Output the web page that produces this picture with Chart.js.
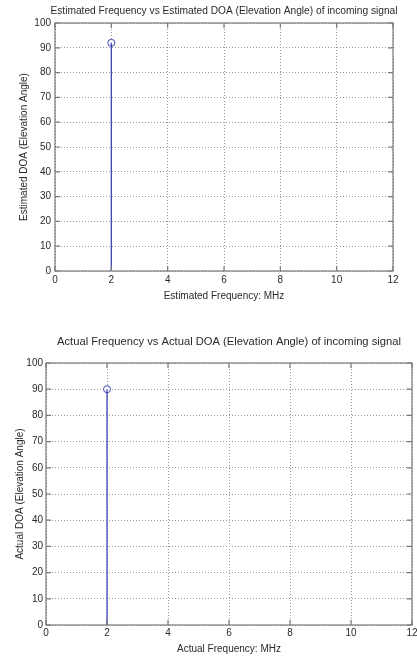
<!DOCTYPE html>
<html>
<head>
<meta charset="utf-8">
<script src="https://cdn.jsdelivr.net/npm/chart.js@4.4.1/dist/chart.umd.min.js"></script>
<style>
  html, body { margin: 0; padding: 0; background: #fff; }
  #wrap { position: relative; width: 417px; height: 656px; overflow: hidden; }
  .box { position: absolute; left: 0; width: 417px; }
</style>
</head>
<body>
<div id="wrap">
  <div class="box" style="top:0;height:305px"><canvas id="estChart"></canvas></div>
  <div class="box" style="top:328px;height:328px"><canvas id="actChart"></canvas></div>
</div>
<script>
// 推定値 / 実測値
const estFreq = [2];
const estDoa = [92];
const actFreq = [2];
const actDoa = [90];

const xMin = 0, xMax = 12, xStep = 2;
const yMin = 0, yMax = 100, yStep = 10;

const stemColor = "#3c46b8";
const axisColor = "#7a7a7a";
const textColor = "#2a2a2a";
const fontFamily = "Liberation Sans, Arial";

// 枠線と内向きの目盛り、タイトル (MATLAB風)
const boxPlugin = {
  id: "matlabBox",
  afterDraw(chart, args, opts) {
    const { ctx, chartArea: a, scales } = chart;
    ctx.save();
    ctx.strokeStyle = axisColor;
    ctx.lineWidth = 1.2;
    ctx.strokeRect(a.left, a.top, a.right - a.left, a.bottom - a.top);
    ctx.beginPath();
    scales.x.ticks.forEach(t => {
      const px = scales.x.getPixelForValue(t.value);
      ctx.moveTo(px, a.bottom); ctx.lineTo(px, a.bottom - 5);
      ctx.moveTo(px, a.top); ctx.lineTo(px, a.top + 5);
    });
    scales.y.ticks.forEach(t => {
      const py = scales.y.getPixelForValue(t.value);
      ctx.moveTo(a.left, py); ctx.lineTo(a.left + 5, py);
      ctx.moveTo(a.right, py); ctx.lineTo(a.right - 5, py);
    });
    ctx.stroke();
    // タイトルはプロット領域の中央に
    ctx.fillStyle = textColor;
    ctx.font = opts.size + "px " + fontFamily;
    ctx.textAlign = "center";
    ctx.textBaseline = "middle";
    ctx.fillText(opts.text, (a.left + a.right) / 2, opts.y);
    ctx.restore();
  }
};

function makeStemChart(id, freq, doa, cfg) {
  const stems = freq.map((f, i) => ({
    type: "scatter",
    data: [{ x: f, y: 0 }, { x: f, y: doa[i] }],
    showLine: true,
    borderColor: stemColor,
    borderWidth: 1.3,
    pointRadius: 0
  }));
  const marks = {
    type: "scatter",
    data: freq.map((f, i) => ({ x: f, y: doa[i] })),
    pointStyle: "circle",
    pointRadius: 3.5,
    borderColor: stemColor,
    borderWidth: 1,
    backgroundColor: "#ffffff"
  };

  return new Chart(document.getElementById(id), {
    type: "scatter",
    data: { datasets: [...stems, marks] },
    options: {
      responsive: true,
      maintainAspectRatio: false,
      animation: false,
      layout: { padding: { left: 0, right: cfg.padRight, top: cfg.padTop, bottom: cfg.padBottom } },
      plugins: {
        legend: { display: false },
        tooltip: { enabled: false },
        title: { display: false },
        matlabBox: { text: cfg.title, y: cfg.titleY, size: cfg.titleSize }
      },
      scales: {
        x: {
          type: "linear",
          min: xMin, max: xMax,
          afterFit: s => { s.paddingRight = 0; s.paddingLeft = 0; },
          ticks: { stepSize: xStep, color: textColor, padding: cfg.xTickPad,
                   font: { family: fontFamily, size: 10 } },
          grid: { color: "#9a9a9a", drawTicks: false },
          border: { display: false, dash: [1, 2] },
          title: { display: true, text: cfg.xLabel, color: textColor,
                   padding: { top: cfg.xTitleTop, bottom: 0 },
                   font: { family: fontFamily, size: 10 } }
        },
        y: {
          min: yMin, max: yMax,
          afterFit: s => { s.width = cfg.yWidth; },
          ticks: { stepSize: yStep, color: textColor, padding: cfg.yTickPad,
                   font: { family: fontFamily, size: 10 } },
          grid: { color: "#9a9a9a", drawTicks: false },
          border: { display: false, dash: [1, 2] },
          title: { display: true, text: cfg.yLabel, color: textColor,
                   padding: { top: cfg.yTitlePad, bottom: 0 },
                   font: { family: fontFamily, size: 10 } }
        }
      }
    },
    plugins: [boxPlugin]
  });
}

makeStemChart("estChart", estFreq, estDoa, {
  title: "Estimated Frequency vs Estimated DOA (Elevation Angle) of incoming signal",
  xLabel: "Estimated Frequency: MHz",
  yLabel: "Estimated DOA (Elevation Angle)",
  padRight: 24, padBottom: 3, padTop: 23, titleY: 11, titleSize: 10.2,
  xTickPad: 3, xTitleTop: 1,
  yWidth: 55, yTickPad: 4, yTitlePad: 18
});

makeStemChart("actChart", actFreq, actDoa, {
  title: "Actual Frequency vs Actual DOA (Elevation Angle) of incoming signal",
  xLabel: "Actual Frequency: MHz",
  yLabel: "Actual DOA (Elevation Angle)",
  padRight: 5, padBottom: 1, padTop: 35, titleY: 14, titleSize: 11.2,
  xTickPad: 2, xTitleTop: 2,
  yWidth: 46, yTickPad: 3, yTitlePad: 14
});
</script>
</body>
</html>
